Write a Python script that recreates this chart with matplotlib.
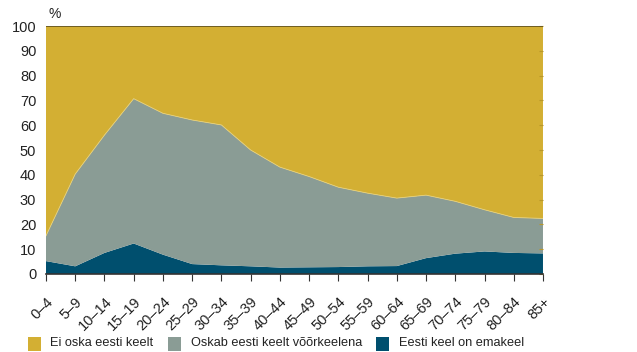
import numpy as np
import matplotlib.pyplot as plt
from matplotlib.patches import Rectangle

plt.rcParams['font.family'] = ['Liberation Sans', 'DejaVu Sans']

age_groups = ['0–4', '5–9', '10–14', '15–19', '20–24', '25–29', '30–34', '35–39',
              '40–44', '45–49', '50–54', '55–59', '60–64', '65–69', '70–74',
              '75–79', '80–84', '85+']
# Eesti keel on emakeel
native = [5.2, 3.1, 8.5, 12.3, 7.8, 4.0, 3.5, 3.1, 2.6, 2.7, 2.8, 3.1, 3.2,
          6.4, 8.2, 9.1, 8.5, 8.3]
# cumulative top of "Oskab eesti keelt võõrkeelena"
foreign_top = [15.4, 40.3, 56.0, 70.7, 64.8, 62.1, 60.1, 50.0, 43.1, 39.3,
               35.0, 32.6, 30.6, 31.8, 29.3, 25.9, 22.8, 22.4]
legend_labels = ['Ei oska eesti keelt', 'Oskab eesti keelt võõrkeelena',
                 'Eesti keel on emakeel']

c_gold = '#d3af33'
c_gray = '#8a9c95'
c_dark = '#004f6e'

x = np.arange(len(age_groups))
native = np.array(native)
foreign = np.array(foreign_top) - native
none_ = 100 - np.array(foreign_top)

fig = plt.figure(figsize=(6.37, 3.52), dpi=100)
ax = fig.add_axes([0.0722, 0.2216, 0.7802, 0.7045])

ax.stackplot(x, native, foreign, none_, colors=[c_dark, c_gray, c_gold],
             linewidth=0)
ax.plot(x, foreign_top, color='#e6d07a', lw=0.6)
ax.axhline(100, color='#5e5020', lw=1.2)

ax.set_xlim(0, len(age_groups) - 1)
ax.set_ylim(0, 100)
ax.set_yticks(range(0, 101, 10))
ax.set_xticks(x)
ax.set_xticklabels(age_groups, rotation=45, ha='right', rotation_mode='anchor',
                   fontsize=10.5, color='#222222')
for s in ['left', 'top', 'right']:
    ax.spines[s].set_visible(False)
ax.spines['bottom'].set_color('#333333')
ax.spines['bottom'].set_linewidth(1.2)
ax.tick_params(axis='x', direction='out', length=5, color='#333333', pad=10)
ax.tick_params(axis='y', left=False, right=True, direction='in', length=3,
               color='#b8972a', labelsize=10.5, pad=7, labelcolor='#222222')
ax.text(0.006, 1.02, '%', transform=ax.transAxes, fontsize=10, ha='left',
        va='bottom', color='#222222')

# legend
items = [(28, 50, c_gold), (168, 191, c_gray), (376, 399, c_dark)]
for (sx, tx, col), lab in zip(items, legend_labels):
    fig.add_artist(Rectangle((sx / 637, 1 - 351 / 352), 13 / 637, 14 / 352,
                             transform=fig.transFigure, color=col, lw=0))
    fig.text(tx / 637, 1 - 343 / 352, lab, fontsize=9.2, va='center', ha='left',
             color='#222222')

fig.savefig('out.png', dpi=100)
